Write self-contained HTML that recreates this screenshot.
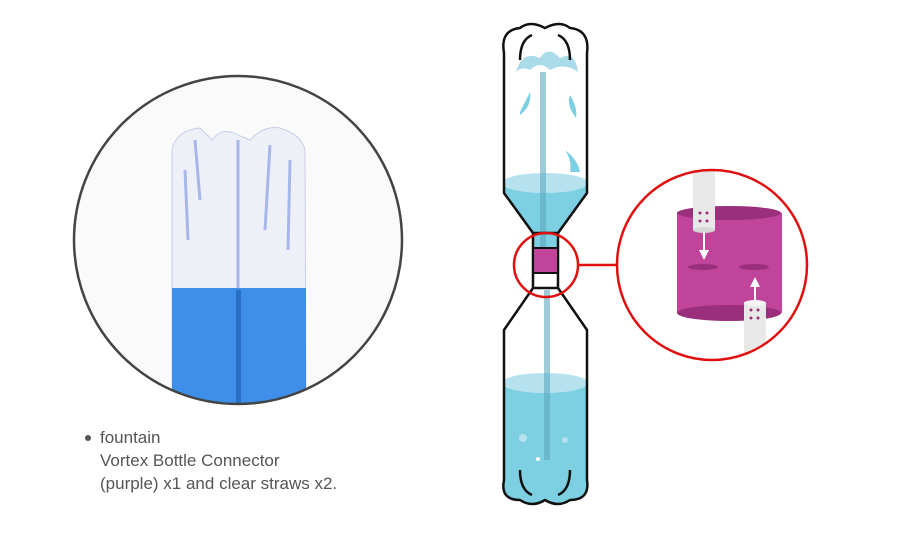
<!DOCTYPE html>
<html><head><style>
body{margin:0;background:#fff;width:900px;height:536px;overflow:hidden;font-family:"Liberation Sans",sans-serif}
.t{position:absolute;left:100px;color:#555;font-size:17px;line-height:23px}
</style></head><body>
<svg width="900" height="536" style="position:absolute;left:0;top:0">
<defs>
<clipPath id="c1"><circle cx="238" cy="240" r="164"/></clipPath>
<clipPath id="c2"><circle cx="712" cy="265" r="94"/></clipPath>
<clipPath id="tb"><path d="M504 193 L504 53 Q500 30 520 28 Q530 20 545 28 Q560 20 570 28 Q590 30 587 53 L587 193 L558 233 L558 248 L533 248 L533 233 Z"/></clipPath>
<clipPath id="bb"><path d="M533 273 L533 288 L504 330 L504 480 Q500 500 520 500 Q532 508 545 500 Q558 508 570 500 Q590 500 587 480 L587 330 L558 288 L558 273 Z"/></clipPath>
</defs>
<g clip-path="url(#c1)">
<rect x="70" y="70" width="340" height="340" fill="#fafafa"/>
<path d="M172 150 Q176 130 200 128 L212 140 Q222 126 238 135 L250 140 Q264 125 280 128 Q302 135 305 150 L306 410 L172 410 Z" fill="#eef0f8" stroke="#c8cde8"/>
<path d="M195 140 L200 200 M238 140 L238 290 M270 145 L265 230 M290 160 L288 250 M185 170 L188 240" stroke="#7a90e0" stroke-width="3" fill="none" opacity=".6"/>
<rect x="172" y="288" width="134" height="130" fill="#3f8fea"/>
<rect x="236" y="290" width="5" height="130" fill="#2a6fc4"/>
</g>
<circle cx="238" cy="240" r="164" fill="none" stroke="#444" stroke-width="2.5"/>
<circle cx="88" cy="438" r="3" fill="#555"/>
<!-- top bottle -->
<g clip-path="url(#tb)">
<rect x="500" y="183" width="90" height="70" fill="#7dcfe2"/>
<ellipse cx="545" cy="183" rx="43" ry="10" fill="#b5e2ee"/>
<rect x="540" y="72" width="6" height="180" fill="#5fa9bf" opacity=".6"/>
<path d="M516 72 Q522 50 540 58 Q548 45 560 58 Q575 50 578 72 Q565 62 550 70 Q540 60 530 70 Q522 66 516 72Z" fill="#a9dbe8"/>
<path d="M520 112 Q526 100 530 92 Q532 106 520 115Z M570 95 Q578 108 576 118 Q566 105 570 95Z M565 150 Q578 160 580 172 L570 172 Q572 160 565 150Z" fill="#7dcfe2"/>
</g>
<path d="M504 193 L504 53 Q500 30 520 28 Q530 20 545 28 Q560 20 570 28 Q590 30 587 53 L587 193 L558 233 L533 233 Z" fill="none" stroke="#111" stroke-width="2.5" stroke-linejoin="round"/>
<path d="M520 60 Q520 40 532 35 M570 60 Q570 40 558 35" fill="none" stroke="#111" stroke-width="2.5"/>
<!-- bottom bottle -->
<g clip-path="url(#bb)">
<rect x="500" y="383" width="90" height="130" fill="#7dcfe2"/>
<ellipse cx="545" cy="383" rx="43" ry="10" fill="#b5e2ee"/>
<rect x="544" y="290" width="6" height="170" fill="#5fa9bf" opacity=".6"/>
<circle cx="523" cy="438" r="4" fill="#b5e2ee"/><circle cx="538" cy="459" r="2" fill="#fff"/><circle cx="565" cy="440" r="3" fill="#b5e2ee"/>
</g>
<path d="M533 288 L504 330 L504 480 Q500 500 520 500 Q532 508 545 500 Q558 508 570 500 Q590 500 587 480 L587 330 L558 288 Z" fill="none" stroke="#111" stroke-width="2.5" stroke-linejoin="round"/>
<path d="M520 470 Q520 490 532 495 M570 470 Q570 490 558 495" fill="none" stroke="#111" stroke-width="2.5"/>
<path d="M533 233 L533 288 M558 233 L558 288" stroke="#111" stroke-width="2.5"/>
<rect x="533" y="248" width="25" height="25" fill="#c0449a" stroke="#111" stroke-width="2"/>
<circle cx="546" cy="265" r="32" fill="none" stroke="#e01010" stroke-width="2.5"/>
<line x1="578" y1="265" x2="617" y2="265" stroke="#e01010" stroke-width="2.5"/>
<!-- zoom circle -->
<g clip-path="url(#c2)">
<rect x="677" y="213" width="105" height="100" fill="#c0449a"/>
<ellipse cx="729" cy="213" rx="52" ry="7" fill="#9a2f7c"/>
<ellipse cx="729" cy="313" rx="52" ry="8" fill="#9a2f7c"/>
<ellipse cx="703" cy="267" rx="15" ry="3" fill="#9a2f7c"/>
<ellipse cx="754" cy="267" rx="15" ry="3" fill="#9a2f7c"/>
<rect x="693" y="150" width="22" height="80" fill="#e8e8e8"/>
<ellipse cx="704" cy="230" rx="11" ry="3" fill="#d6d6d6"/>
<circle cx="700" cy="213" r="1.5" fill="#9a2f7c"/><circle cx="707" cy="213" r="1.5" fill="#9a2f7c"/><circle cx="700" cy="221" r="1.5" fill="#9a2f7c"/><circle cx="707" cy="221" r="1.5" fill="#9a2f7c"/>
<path d="M703 232 L705 232 L705 250 L709 250 L704 260 L699 250 L703 250Z" fill="#fff"/>
<rect x="744" y="303" width="22" height="80" fill="#e8e8e8"/>
<ellipse cx="755" cy="303" rx="11" ry="3" fill="#f4f4f4"/>
<circle cx="751" cy="310" r="1.5" fill="#9a2f7c"/><circle cx="758" cy="310" r="1.5" fill="#9a2f7c"/><circle cx="751" cy="318" r="1.5" fill="#9a2f7c"/><circle cx="758" cy="318" r="1.5" fill="#9a2f7c"/>
<path d="M754 301 L756 301 L756 287 L760 287 L755 277 L750 287 L754 287Z" fill="#fff"/>
</g>
<circle cx="712" cy="265" r="95" fill="none" stroke="#e01010" stroke-width="2.5"/>
</svg>
<div class="t" style="top:426px">fountain</div>
<div class="t" style="top:449px">Vortex Bottle Connector</div>
<div class="t" style="top:472px">(purple) x1 and clear straws x2.</div>
</body></html>
